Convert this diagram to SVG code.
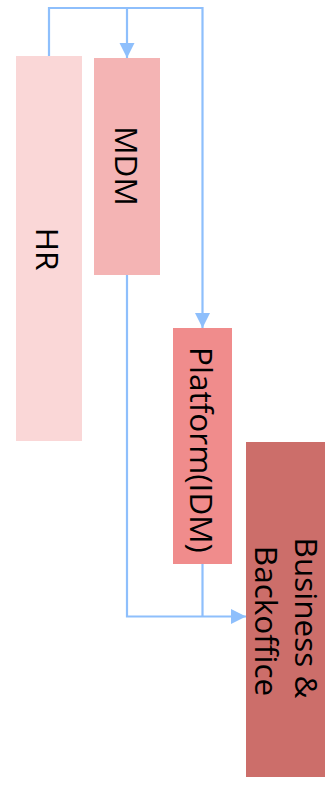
<svg xmlns="http://www.w3.org/2000/svg" width="325" height="789" viewBox="0 0 325 789">
<style>
.lbl{font-family:"Open Sans","Noto Sans",sans-serif;font-size:31.5px;fill:#000;text-anchor:middle}
.edge{fill:none;stroke:#8EBFFC;stroke-width:2.2}
</style>
<defs>
<marker id="ah" markerUnits="userSpaceOnUse" markerWidth="16" markerHeight="16" refX="15" refY="7.5" orient="auto">
<path d="M0,0 L15,7.5 L0,15 Z" fill="#8EBFFC"/>
</marker>
</defs>
<rect width="325" height="789" fill="#fff"/>
<g id="connectors">
<path class="edge" d="M49,56 V8 H202.5 V328" marker-end="url(#ah)"/>
<path class="edge" d="M127,8 V58" marker-end="url(#ah)"/>
<path class="edge" d="M127,275 V616.5 H246" marker-end="url(#ah)"/>
<path class="edge" d="M202.5,564 V616.5"/>
</g>
<g id="hr">
<rect x="16" y="56" width="66" height="385" fill="#FAD7D7"/>
<text class="lbl" transform="translate(36,249) rotate(90)">HR</text>
</g>
<g id="mdm">
<rect x="94" y="58" width="66" height="217" fill="#F4B4B4"/>
<text class="lbl" transform="translate(115,166) rotate(90)">MDM</text>
</g>
<g id="platform">
<rect x="173" y="328" width="59" height="236" fill="#F08C8C"/>
<text class="lbl" transform="translate(190,450) rotate(90)">Platform(IDM)</text>
</g>
<g id="business">
<rect x="246" y="442" width="79" height="335" fill="#CC6E6A"/>
<text class="lbl" transform="translate(295,618) rotate(90)">Business &amp;</text>
<text class="lbl" transform="translate(255,621) rotate(90)">Backoffice</text>
</g>
</svg>
